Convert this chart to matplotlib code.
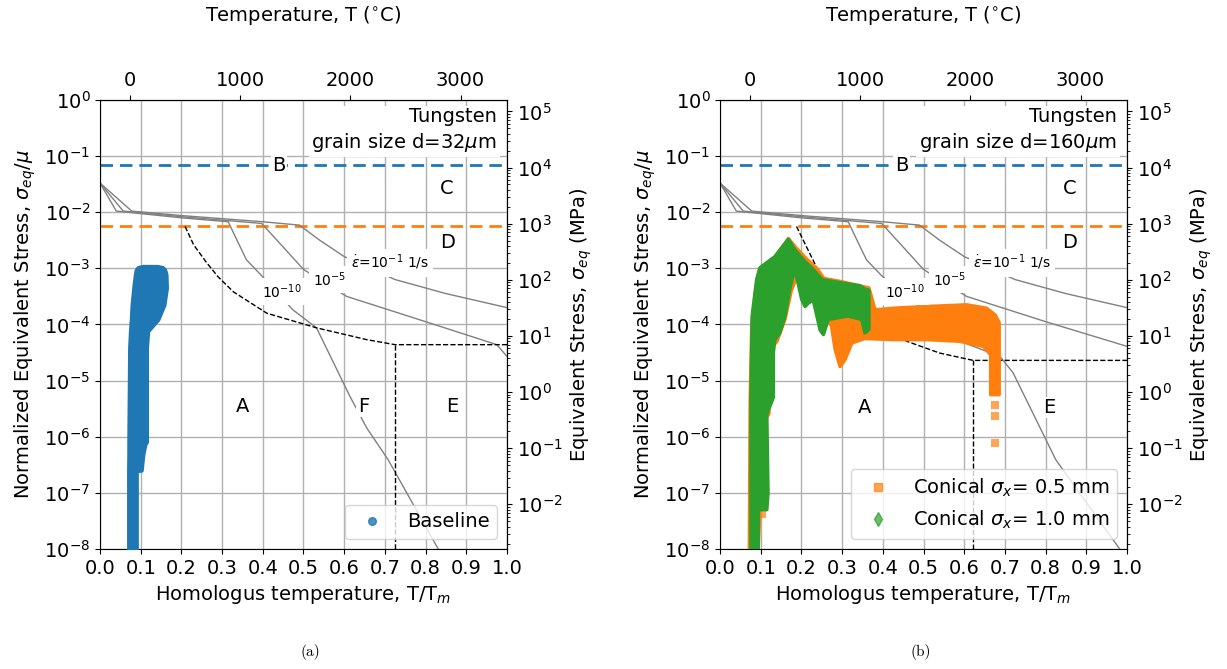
"""
Deformation mechanism maps for tungsten with the simulated stress / temperature
histories laid on top. Two panels: (a) d = 32 um baseline, (b) d = 160 um conical.
"""

import matplotlib
matplotlib.use("Agg")
import matplotlib.pyplot as plt
from matplotlib.ticker import NullLocator
from matplotlib.lines import Line2D
import numpy as np


MU = 1.6e5        # MPa, shear modulus used for the right axis
T_MELT = 3695.0   # K, melting point of tungsten

# ----------------------------------------------------------------------
# DATA  (t: homologous temperature T/Tm, s: log10 of sigma_eq / mu)
# ----------------------------------------------------------------------

ideal_strength_s = -1.16     # blue dashed line (B)
yield_strength_s = -2.254    # orange dashed line (D)

rate_labels = [r"$\dot{\varepsilon}$=10$^{-1}$ 1/s", r"10$^{-5}$", r"10$^{-10}$"]

# strain-rate contours shared by both maps
rate1_t = [0.0, 0.078, 0.2, 0.4, 0.49, 0.54, 0.60, 0.725, 0.85, 1.0]
rate1_s = [-1.48, -1.98, -2.06, -2.17, -2.23, -2.50, -2.79, -3.20, -3.45, -3.70]

# (a) grain size 32 um
a_rate5_t = [0.0, 0.057, 0.2, 0.397, 0.45, 0.5, 0.606, 0.80, 0.975, 1.0]
a_rate5_s = [-1.48, -1.98, -2.08, -2.20, -2.62, -3.02, -3.50, -3.95, -4.36, -4.57]
a_rate10_t = [0.0, 0.04, 0.2, 0.315, 0.34, 0.36, 0.397, 0.474, 0.532, 0.614, 0.655, 0.708, 0.831]
a_rate10_s = [-1.48, -1.98, -2.10, -2.17, -2.55, -2.85, -3.13, -3.74, -4.06, -5.28, -5.84, -6.41, -8.0]
a_bound_t = [0.209, 0.23, 0.26, 0.29, 0.328, 0.41, 0.532, 0.655, 0.725, 1.0]
a_bound_s = [-2.254, -2.58, -2.88, -3.15, -3.42, -3.80, -4.06, -4.27, -4.36, -4.36]
a_bound_vert_t = 0.725

# (b) grain size 160 um
b_rate5_t = [0.0, 0.057, 0.2, 0.397, 0.45, 0.5, 0.606, 0.80, 1.0]
b_rate5_s = [-1.48, -1.98, -2.08, -2.20, -2.62, -3.02, -3.50, -3.95, -4.39]
b_rate10_t = [0.0, 0.04, 0.2, 0.315, 0.34, 0.36, 0.397, 0.5, 0.59, 0.688, 0.70, 0.72, 0.825, 0.982]
b_rate10_s = [-1.48, -1.98, -2.10, -2.17, -2.55, -2.85, -3.13, -3.75, -4.30, -4.57, -4.68, -4.86, -6.41, -8.0]
b_bound_t = [0.188, 0.25, 0.32, 0.40, 0.459, 0.54, 0.622, 1.0]
b_bound_s = [-2.254, -3.17, -3.70, -4.08, -4.30, -4.51, -4.64, -4.64]
b_bound_vert_t = 0.622

# region letters
a_letters = [("B", 0.44, -1.16), ("C", 0.853, -1.57), ("D", 0.853, -2.54),
             ("A", 0.35, -5.46), ("F", 0.647, -5.46), ("E", 0.865, -5.46)]
b_letters = [("B", 0.446, -1.16), ("C", 0.86, -1.57), ("D", 0.86, -2.54),
             ("A", 0.356, -5.48), ("E", 0.81, -5.48)]

# contour label positions (10^-1, 10^-5, 10^-10)
a_rate_label_t = [0.713, 0.565, 0.447]
b_rate_label_t = [0.717, 0.565, 0.455]
rate_label_s = [-2.90, -3.20, -3.42]

# baseline history (envelope of the scatter cloud)
baseline_s = [-8.0, -6.61, -6.60, -6.32, -6.14, -6.09, -4.41, -4.12, -3.91, -3.65,
              -3.35, -3.11, -3.03, -2.98, -2.96]
baseline_lo = [0.0695, 0.0695, 0.0695, 0.070, 0.070, 0.070, 0.072, 0.074, 0.076, 0.078,
               0.082, 0.086, 0.088, 0.093, 0.105]
baseline_hi = [0.090, 0.090, 0.102, 0.106, 0.111, 0.115, 0.115, 0.118, 0.143, 0.158,
               0.164, 0.163, 0.160, 0.154, 0.140]

# conical sigma_x = 0.5 mm (outline of the cloud + stray points)
con05_t = [0.072, 0.074, 0.078, 0.088, 0.096, 0.130, 0.168, 0.190, 0.215, 0.240, 0.255,
           0.300, 0.366, 0.381, 0.426, 0.508, 0.606, 0.655, 0.676, 0.686, 0.686, 0.665,
           0.665, 0.647, 0.590, 0.508, 0.426, 0.356, 0.324, 0.307, 0.295, 0.283, 0.274,
           0.266, 0.230, 0.205, 0.190, 0.175, 0.160, 0.140, 0.128, 0.120, 0.098, 0.098, 0.094]
con05_s = [-8.0, -5.40, -4.00, -3.35, -3.05, -2.85, -2.47, -2.66, -2.85, -3.02, -3.18,
           -3.24, -3.35, -3.74, -3.71, -3.68, -3.65, -3.71, -3.83, -3.97, -5.25, -5.25,
           -4.54, -4.39, -4.30, -4.27, -4.27, -4.25, -4.33, -4.63, -4.75, -4.45, -4.03,
           -3.91, -3.50, -3.20, -3.12, -3.40, -3.90, -4.30, -4.40, -5.60, -5.80, -7.30, -8.0]
con05_pts_t = [0.676, 0.676, 0.676, 0.103]
con05_pts_s = [-5.43, -5.63, -6.11, -7.38]

# conical sigma_x = 1.0 mm
con10_t = [0.076, 0.076, 0.079, 0.090, 0.098, 0.135, 0.168, 0.184, 0.209, 0.229, 0.251,
           0.299, 0.344, 0.356, 0.366, 0.366, 0.356, 0.348, 0.315, 0.266, 0.254, 0.246,
           0.229, 0.217, 0.209, 0.201, 0.188, 0.180, 0.172, 0.160, 0.147, 0.135, 0.131,
           0.131, 0.115, 0.118, 0.115, 0.094, 0.094]
con10_s = [-8.0, -5.34, -3.85, -3.20, -2.99, -2.79, -2.48, -2.67, -2.88, -3.02, -3.20,
           -3.26, -3.31, -3.37, -3.39, -4.09, -4.15, -3.91, -3.85, -3.91, -4.18, -4.10,
           -3.56, -3.62, -3.68, -3.56, -3.14, -3.11, -3.35, -3.85, -4.15, -4.27, -4.50,
           -5.30, -5.60, -7.00, -7.30, -7.30, -8.0]


def lg(vals):
    return 10.0 ** np.asarray(vals, dtype=float)


# ----------------------------------------------------------------------
# DRAWING
# ----------------------------------------------------------------------

def draw_map(ax, rate_lines, bound_t, bound_s, vert_t, letters, label_t, grain):
    ax.set_yscale("log")
    ax.set_xlim(0, 1)
    ax.set_ylim(1e-8, 1)
    ax.set_axisbelow(True)
    ax.grid(True, color="#b0b0b0", lw=1.0)

    ax.axhline(10 ** ideal_strength_s, color="C0", lw=2, ls=(0, (4.5, 2.5)), zorder=2)
    ax.axhline(10 ** yield_strength_s, color="C1", lw=2, ls=(0, (4.5, 2.5)), zorder=2)

    for t, s in rate_lines:
        ax.plot(t, lg(s), color="grey", lw=1.0, zorder=2)

    ax.plot(bound_t, lg(bound_s), color="black", lw=1.0, ls="--", zorder=2)
    ax.plot([vert_t, vert_t], [lg(bound_s)[-1], 1e-8], color="black", lw=1.0, ls="--", zorder=2)

    for lab, t, s in zip(rate_labels, label_t, rate_label_s):
        ax.text(t, 10 ** s, lab, fontsize=10, ha="center", va="center", zorder=4,
                bbox=dict(fc="white", ec="none", pad=3))

    for lab, t, s in letters:
        ax.text(t, 10 ** s, lab, fontsize=14, ha="center", va="center", zorder=5,
                bbox=dict(fc="white", ec="none", pad=1))

    ax.text(0.975, 0.985, "Tungsten\ngrain size d=%s$\\mu$m" % grain, transform=ax.transAxes,
            fontsize=14, ha="right", va="top", zorder=5, linespacing=1.3,
            bbox=dict(fc="white", ec="none", pad=2))

    ax.set_xticks(np.linspace(0, 1, 11))
    ax.set_xticklabels(["%.1f" % v for v in np.linspace(0, 1, 11)])
    ax.set_yticks([10.0 ** k for k in range(-8, 1)])
    ax.yaxis.set_minor_locator(NullLocator())
    ax.tick_params(labelsize=14)
    ax.set_xlabel("Homologus temperature, T/T$_m$", fontsize=14)
    ax.set_ylabel(r"Normalized Equivalent Stress, $\sigma_{eq}/\mu$", fontsize=14)

    top = ax.secondary_xaxis("top", functions=(lambda h: h * T_MELT - 273.15,
                                               lambda c: (c + 273.15) / T_MELT))
    top.set_xticks([0, 1000, 2000, 3000])
    top.tick_params(labelsize=14)
    top.set_xlabel(r"Temperature, T ($^{\circ}$C)", fontsize=14, labelpad=36)

    right = ax.secondary_yaxis("right", functions=(lambda s: s * MU, lambda s: s / MU))
    right.tick_params(labelsize=14)
    right.set_ylabel(r"Equivalent Stress, $\sigma_{eq}$ (MPa)", fontsize=14)


fig = plt.figure(figsize=(12.27, 6.69), dpi=100)
ax_a = fig.add_axes([0.0815, 0.1794, 0.3317, 0.6712])
ax_b = fig.add_axes([0.5868, 0.1794, 0.3317, 0.6712])

draw_map(ax_a, [(rate1_t, rate1_s), (a_rate5_t, a_rate5_s), (a_rate10_t, a_rate10_s)],
         a_bound_t, a_bound_s, a_bound_vert_t, a_letters, a_rate_label_t, "32")
draw_map(ax_b, [(rate1_t, rate1_s), (b_rate5_t, b_rate5_s), (b_rate10_t, b_rate10_s)],
         b_bound_t, b_bound_s, b_bound_vert_t, b_letters, b_rate_label_t, "160")

# (a) baseline cloud
ax_a.fill_betweenx(lg(baseline_s), baseline_lo, baseline_hi, color="C0", ec="C0",
                   lw=2.5, joinstyle="round", zorder=3)
h_base = Line2D([], [], ls="none", marker="o", ms=5.5, color="C0", alpha=0.8, label="Baseline")
ax_a.legend(handles=[h_base], loc="lower right", fontsize=14)

# (b) conical clouds
ax_b.fill(con05_t, lg(con05_s), color="C1", ec="C1", lw=2.5, joinstyle="round", zorder=3)
ax_b.scatter(con05_pts_t, lg(con05_pts_s), marker="s", s=30, color="C1", alpha=0.7,
             lw=0, zorder=3)
ax_b.fill(con10_t, lg(con10_s), color="C2", ec="C2", lw=2.5, joinstyle="round", zorder=3)
h_05 = Line2D([], [], ls="none", marker="s", ms=6, color="C1", alpha=0.7,
              label=r"Conical $\sigma_x$= 0.5 mm")
h_10 = Line2D([], [], ls="none", marker="d", ms=7, color="C2", alpha=0.7,
              label=r"Conical $\sigma_x$= 1.0 mm")
ax_b.legend(handles=[h_05, h_10], loc="lower right", fontsize=14)

fig.text(310 / 1227, 1 - 652 / 669, "(a)", ha="center", va="center", fontfamily="cmr10", fontsize=11)
fig.text(921 / 1227, 1 - 652 / 669, "(b)", ha="center", va="center", fontfamily="cmr10", fontsize=11)

fig.savefig("out.png", dpi=100)
